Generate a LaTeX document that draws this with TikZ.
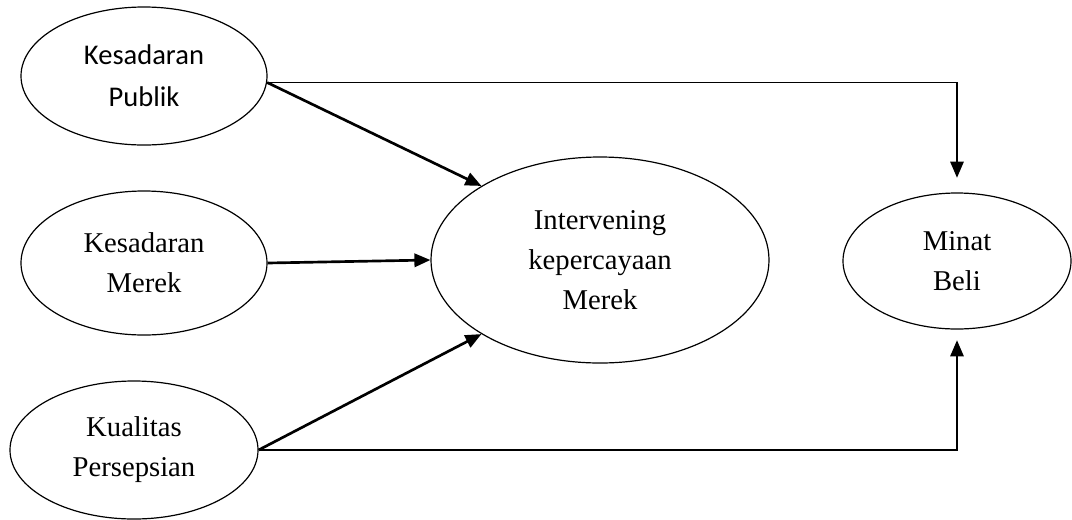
\documentclass[tikz,border=0pt]{standalone}
\usepackage{fontspec}
\setmainfont{Liberation Serif}
\newfontfamily\calfont{Carlito}
\usetikzlibrary{shapes.geometric,arrows.meta}
\begin{document}
\begin{tikzpicture}[x=0.75pt,y=-0.75pt,
  oval/.style={ellipse,draw,line width=0.9pt,inner sep=0pt,align=center,
    font=\fontsize{21.5pt}{30pt}\selectfont},
  thickarrow/.style={line width=2pt,-{Triangle[length=12pt,width=10pt]}},
  thinarrow/.style={line width=1.2pt,-{Triangle[length=12pt,width=10pt]}}]
\useasboundingbox (0,0) rectangle (1072,519);
\node[oval,minimum width=184.5pt,minimum height=103.5pt,
  font=\calfont\fontsize{21.4pt}{31.5pt}\selectfont] (pub) at (144,76) {Kesadaran\\Publik};
\node[oval,minimum width=184.5pt,minimum height=108pt] (mer) at (144,263) {Kesadaran\\Merek};
\node[oval,minimum width=186pt,minimum height=103.5pt] (kual) at (134,450) {Kualitas\\Persepsian};
\node[oval,minimum width=253.5pt,minimum height=154.5pt] (int) at (600,260) {Intervening\\kepercayaan\\Merek};
\node[oval,minimum width=171pt,minimum height=102pt] (minat) at (957,261) {Minat\\Beli};
\draw[thickarrow] (pub.-3) -- (int.148);
\draw[thickarrow] (mer.east) -- (int.west);
\draw[thickarrow] (kual.east) -- (int.212);
\draw[thinarrow,shorten >=11pt] (pub.-3) -| (minat.north);
\draw[thinarrow,shorten >=8pt] (kual.east) -| (minat.south);
\end{tikzpicture}
\end{document}
